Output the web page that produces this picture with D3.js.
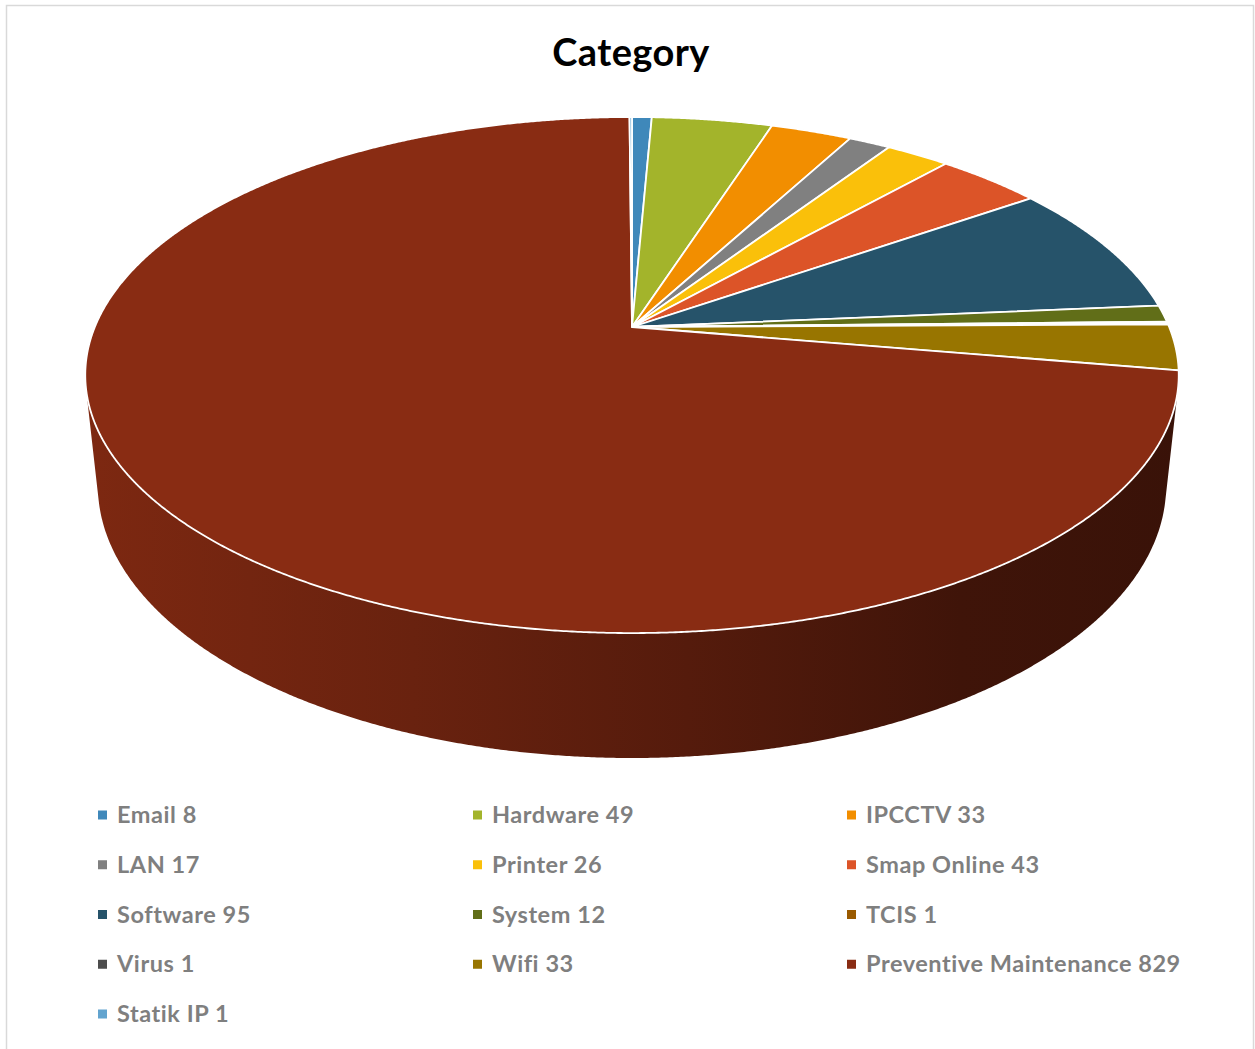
<!DOCTYPE html>
<html>
<head>
<meta charset="utf-8">
<script src="https://cdn.jsdelivr.net/npm/d3@7"></script>
<style>
  html, body { margin: 0; padding: 0; background: #ffffff; }
  svg { display: block; }
</style>
</head>
<body>
<svg id="chart" width="1255" height="1049"></svg>
<script>
// Ticket counts per category
const categories = ["Email", "Hardware", "IPCCTV", "LAN", "Printer", "Smap Online", "Software",
  "System", "TCIS", "Virus", "Wifi", "Preventive Maintenance", "Statik IP"];
const values = [8, 49, 33, 17, 26, 43, 95, 12, 1, 1, 33, 829, 1];
const colors = ["#3f88ba", "#a3b42b", "#f28e00", "#808080", "#fac00a", "#dc5428", "#26536a",
  "#616e18", "#9a5a00", "#4d4d4d", "#987500", "#892c13", "#62a4cf"];
const title = "Category";

const svg = d3.select("#chart");

// Chart frame
svg.append("rect")
  .attr("x", 6.5).attr("y", 5.5)
  .attr("width", 1247).attr("height", 1060)
  .attr("fill", "#ffffff")
  .attr("stroke", "#d9d9d9").attr("stroke-width", 1.5);

// Title
svg.append("text")
  .attr("x", 631).attr("y", 66)
  .attr("text-anchor", "middle")
  .attr("font-family", "Lato, 'Open Sans', sans-serif")
  .attr("font-weight", "bold")
  .attr("font-size", 38)
  .attr("letter-spacing", 0.4)
  .attr("fill", "#000000")
  .text(title);

// Perspective camera for a tilted 3D pie (unit radius disc, thickness h)
const cam = { cx: 632, cy: 327, F: 2557, L: 4.76, sinP: 0.4637, h: 0.2343 };
cam.cosP = Math.sqrt(1 - cam.sinP * cam.sinP);

function project(x, y, z) {
  const depth = cam.L - y * cam.sinP - z * cam.cosP;
  return [cam.cx + cam.F * x / depth, cam.cy - cam.F * (y * cam.cosP - z * cam.sinP) / depth];
}
// angle a: 0 at the far (top) point, growing clockwise seen from above
function rim(a, y) { return project(Math.sin(a), y, -Math.cos(a)); }

const pie = d3.pie().value(d => d).sort(null)
  .startAngle(0).endAngle(2 * Math.PI);
const arcs = pie(values);

const STEP = Math.PI / 720;
function sampleAngles(a0, a1) {
  const n = Math.max(2, Math.ceil((a1 - a0) / STEP) + 1);
  return d3.range(n).map(i => a0 + (a1 - a0) * i / (n - 1));
}
const toPath = pts => "M" + pts.map(p => p[0].toFixed(2) + "," + p[1].toFixed(2)).join("L") + "Z";

// Side wall is visible where its outward normal faces the camera
const zc = 1 / (cam.L * cam.cosP);
const wallA0 = Math.acos(-zc), wallA1 = 2 * Math.PI - Math.acos(-zc);

const defs = svg.append("defs");
const gWall = svg.append("g");
const gTop = svg.append("g");

arcs.forEach((d, i) => {
  const a0 = Math.max(d.startAngle, wallA0), a1 = Math.min(d.endAngle, wallA1);
  if (a1 <= a0) return;
  const base = d3.color(colors[i]);
  const grad = defs.append("linearGradient")
    .attr("id", "wall" + i)
    .attr("gradientUnits", "userSpaceOnUse")
    .attr("x1", 85).attr("x2", 1180).attr("y1", 0).attr("y2", 0);
  [[0, 0.25], [0.3, 0.75], [0.55, 1.35], [0.8, 2.2], [1, 2.45]].forEach(([o, k]) => {
    grad.append("stop").attr("offset", o).attr("stop-color", base.darker(k).formatHex());
  });
  const angs = sampleAngles(a0, a1);
  const pts = angs.map(a => rim(a, 0)).concat(angs.slice().reverse().map(a => rim(a, -cam.h)));
  gWall.append("path")
    .attr("d", toPath(pts))
    .attr("fill", "url(#wall" + i + ")");
});

arcs.forEach((d, i) => {
  const c = project(0, 0, 0);
  const pts = [c].concat(sampleAngles(d.startAngle, d.endAngle).map(a => rim(a, 0)));
  gTop.append("path")
    .attr("d", toPath(pts))
    .attr("fill", colors[i])
    .attr("stroke", "#ffffff")
    .attr("stroke-width", 1.8)
    .attr("stroke-linejoin", "round");
});

// Legend: three columns
const legX = [98, 473, 847];
const legY0 = 815, legDY = 49.75;
const leg = svg.append("g")
  .attr("font-family", "Lato, 'Open Sans', sans-serif")
  .attr("font-weight", "bold")
  .attr("font-size", 23.5)
  .attr("letter-spacing", 0.55)
  .attr("fill", "#7f7f7f");
categories.forEach((name, i) => {
  const x = legX[i % 3], y = legY0 + Math.floor(i / 3) * legDY;
  leg.append("rect")
    .attr("x", x).attr("y", y - 4.5)
    .attr("width", 9).attr("height", 9)
    .attr("fill", colors[i]);
  leg.append("text")
    .attr("x", x + 19).attr("y", y + 8)
    .text(name + " " + values[i]);
});
</script>
</body>
</html>
